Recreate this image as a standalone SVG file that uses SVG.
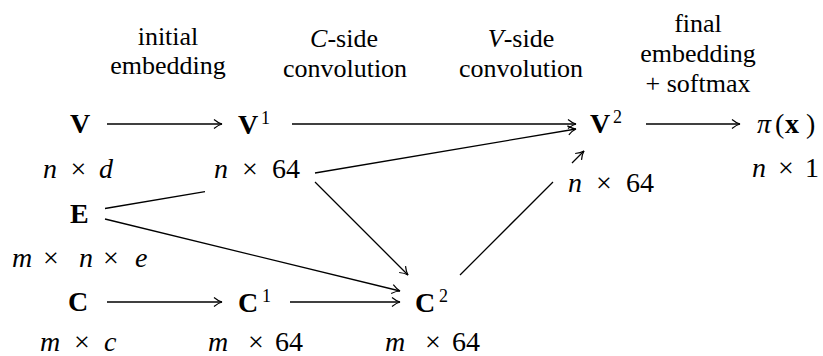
<svg xmlns="http://www.w3.org/2000/svg" width="823" height="356" viewBox="0 0 823 356">
<defs>
<marker id="ah" viewBox="-10 -6 12 12" refX="0" refY="0" markerWidth="12" markerHeight="12" markerUnits="userSpaceOnUse" orient="auto">
<path d="M-8,-4.5 C-5,-2 -2,-0.5 0,0 C-2,0.5 -5,2 -8,4.5" stroke="#000" stroke-width="1.2" fill="none"/>
</marker>
</defs>
<rect width="823" height="356" fill="#fff"/>

<g id="headings">
<text font-family="Liberation Serif" font-size="26" text-anchor="middle" x="168" y="45">initial</text>
<text font-family="Liberation Serif" font-size="26" text-anchor="middle" x="168" y="74">embedding</text>
<text font-family="Liberation Serif" font-size="26" text-anchor="middle" x="344" y="47"><tspan font-style="italic">C</tspan>-side</text>
<text font-family="Liberation Serif" font-size="26" text-anchor="middle" x="345" y="77">convolution</text>
<text font-family="Liberation Serif" font-size="26" text-anchor="middle" x="521" y="47"><tspan font-style="italic">V</tspan>-side</text>
<text font-family="Liberation Serif" font-size="26" text-anchor="middle" x="521" y="77">convolution</text>
<text font-family="Liberation Serif" font-size="26" text-anchor="middle" x="698" y="32">final</text>
<text font-family="Liberation Serif" font-size="26" text-anchor="middle" x="698" y="62">embedding</text>
<text font-family="Liberation Serif" font-size="26" text-anchor="middle" x="698" y="92">+ softmax</text>
</g>

<g id="node-V">
<text font-family="Liberation Serif" font-size="28" x="70" y="133" font-weight="bold">V</text>
<text font-family="Liberation Serif" font-size="28" y="178"><tspan font-style="italic" x="43">n</tspan><tspan x="70.6">×</tspan><tspan font-style="italic" x="99">d</tspan></text>
</g>
<g id="node-V1">
<text font-family="Liberation Serif" font-size="28" x="238" y="134" font-weight="bold">V<tspan font-size="18" font-weight="normal" x="261" y="124">1</tspan></text>
<text font-family="Liberation Serif" font-size="28" y="178"><tspan font-style="italic" x="214">n</tspan><tspan x="242">×</tspan><tspan x="272">64</tspan></text>
</g>
<g id="node-V2">
<text font-family="Liberation Serif" font-size="28" x="590" y="133" font-weight="bold">V<tspan font-size="18" font-weight="normal" x="613" y="123">2</tspan></text>
<text font-family="Liberation Serif" font-size="28" y="192"><tspan font-style="italic" x="568">n</tspan><tspan x="596">×</tspan><tspan x="626">64</tspan></text>
</g>
<g id="node-pi">
<text font-family="Liberation Serif" font-size="28" y="133"><tspan font-style="italic" x="757">π</tspan><tspan x="775">(</tspan><tspan font-weight="bold" x="785">x</tspan><tspan x="806">)</tspan></text>
<text font-family="Liberation Serif" font-size="28" y="177"><tspan font-style="italic" x="752">n</tspan><tspan x="778">×</tspan><tspan x="805">1</tspan></text>
</g>
<g id="node-E">
<text font-family="Liberation Serif" font-size="28" x="70" y="223" font-weight="bold">E</text>
<text font-family="Liberation Serif" font-size="28" y="267"><tspan font-style="italic" x="12">m</tspan><tspan x="43">×</tspan><tspan font-style="italic" x="79">n</tspan><tspan x="103">×</tspan><tspan font-style="italic" x="135">e</tspan></text>
</g>
<g id="node-C">
<text font-family="Liberation Serif" font-size="28" x="68" y="311" font-weight="bold">C</text>
<text font-family="Liberation Serif" font-size="28" y="351"><tspan font-style="italic" x="40">m</tspan><tspan x="74">×</tspan><tspan font-style="italic" x="104">c</tspan></text>
</g>
<g id="node-C1">
<text font-family="Liberation Serif" font-size="28" x="238" y="312" font-weight="bold">C<tspan font-size="18" font-weight="normal" x="262" y="302">1</tspan></text>
<text font-family="Liberation Serif" font-size="28" y="351"><tspan font-style="italic" x="208">m</tspan><tspan x="248">×</tspan><tspan x="275">64</tspan></text>
</g>
<g id="node-C2">
<text font-family="Liberation Serif" font-size="28" x="415" y="312" font-weight="bold">C<tspan font-size="18" font-weight="normal" x="439" y="302">2</tspan></text>
<text font-family="Liberation Serif" font-size="28" y="351"><tspan font-style="italic" x="385">m</tspan><tspan x="425">×</tspan><tspan x="452">64</tspan></text>
</g>

<g id="connectors" stroke="#000" stroke-width="1.3" fill="none">
<line x1="107" y1="124" x2="222" y2="124" marker-end="url(#ah)"/>
<line x1="292" y1="124" x2="576" y2="124" marker-end="url(#ah)"/>
<line x1="646" y1="124" x2="740" y2="124" marker-end="url(#ah)"/>
<path d="M105,208.5 L205,191.6 M315,173 L576,129" marker-end="url(#ah)"/>
<line x1="105" y1="219" x2="400" y2="291" marker-end="url(#ah)"/>
<line x1="315" y1="182" x2="408" y2="275" marker-end="url(#ah)"/>
<line x1="107" y1="302" x2="222" y2="302" marker-end="url(#ah)"/>
<line x1="290" y1="302" x2="400" y2="302" marker-end="url(#ah)"/>
<path d="M460,275 L553,182 M572,163 L584,151" marker-end="url(#ah)"/>
</g>
</svg>
